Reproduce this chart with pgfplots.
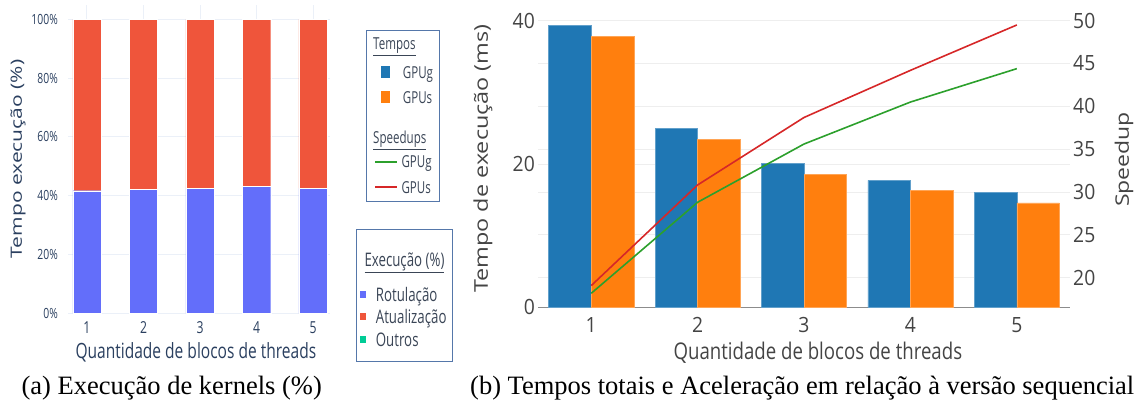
\documentclass[border=0pt]{standalone}
\usepackage{pgfplots}
\pgfplotsset{compat=1.18}
\usepackage{fontspec}
\setmainfont{Liberation Serif}
\newfontfamily\os{Open Sans}
\newfontfamily\osa[FakeStretch=0.74]{Open Sans}
\newfontfamily\osl[FakeStretch=0.70]{Open Sans}
\newfontfamily\osm[FakeStretch=0.71]{Open Sans}
\newfontfamily\osb[FakeStretch=0.81]{Open Sans}
\newfontfamily\osbt[FakeStretch=0.92]{Open Sans}
\definecolor{blueA}{HTML}{636EFA}
\definecolor{redA}{HTML}{EF553B}
\definecolor{greenA}{HTML}{00CC96}
\definecolor{txtA}{HTML}{2A3F5F}
\definecolor{gridA}{HTML}{EBF0F8}
\definecolor{blueB}{HTML}{1F77B4}
\definecolor{orangeB}{HTML}{FF7F0E}
\definecolor{greenB}{HTML}{2CA02C}
\definecolor{redB}{HTML}{D62728}
\definecolor{txtB}{HTML}{444444}
\definecolor{gridB}{HTML}{EEEEEE}
\definecolor{axB}{HTML}{8C8C8C}
\definecolor{legborder}{HTML}{5577AA}
\definecolor{legtxt}{HTML}{3A4556}

\tikzset{
  lgone/.style={anchor=base west, inner sep=0pt, font=\osl\fontsize{16.5}{16.5}\selectfont, text=legtxt},
  lgtwo/.style={anchor=base west, inner sep=0pt, font=\osm\fontsize{18.7}{18.7}\selectfont, text=legtxt},
}

\pgfplotstableread{
x rot atu
1 41.7 58.3
2 42.2 57.8
3 42.5 57.5
4 43.1 56.9
5 42.5 57.5
}\kernels

\pgfplotstableread{
x gpug gpus sg ss
1 39.35 37.77 18.17 19.07
2 24.93 23.40 28.80 30.82
3 20.09 18.60 35.60 38.70
4 17.72 16.28 40.50 44.20
5 16.05 14.56 44.40 49.50
}\tempos

\begin{document}
\begin{tikzpicture}[x=1pt,y=1pt]
\useasboundingbox (0,0) rectangle (1141,403);

% ---------------- legend graphics first
\fill[greenB] (374.7,240.3) rectangle (397,242.3);
\fill[redB] (374.7,214.7) rectangle (397,216.7);
\fill[blueB] (381,324.7) rectangle (390.3,337);
\fill[orangeB] (381,299.5) rectangle (390.3,311.8);
\fill[blueA] (360,104.7) rectangle (366,112);
\fill[redA] (360,83) rectangle (366,90.3);
\fill[greenA] (360,59.7) rectangle (366,67);
\draw[legborder, line width=0.8pt] (366,202) rectangle (439.3,373);
\draw[legborder, line width=0.8pt] (356.7,42) rectangle (452,174);

% ---------------- panel (a)
\begin{axis}[
  at={(68pt,89.7pt)}, anchor=south west, scale only axis,
  width=262pt, height=308.7pt,
  xmin=0.664, xmax=5.30, ymin=0, ymax=105,
  ybar stacked, bar width=0.5,
  /pgf/number format/assume math mode=true,
  axis line style={draw=none},
  major tick length=0pt, tick style={draw=none},
  xtick={1,2,3,4,5},
  ytick={0,20,40,60,80,100},
  yticklabels={0\%,20\%,40\%,60\%,80\%,100\%},
  ymajorgrids, xmajorgrids,
  grid style={color=gridA, line width=1pt},
  yticklabel style={font=\osa\fontsize{14}{14}\selectfont, text=txtA, anchor=east, inner sep=0pt, xshift=-10pt},
  xticklabel style={font=\osa\fontsize{16.5}{16.5}\selectfont, text=txtA, anchor=center, inner sep=0pt, yshift=-14.7pt},
  xlabel={Quantidade de blocos de threads},
  ylabel={\scalebox{1}[0.74]{Tempo execução (\%)}},
  xlabel style={font=\osa\fontsize{21}{21}\selectfont, text=txtA, at={(axis description cs:0.488,-0.1268)}, anchor=center},
  ylabel style={font=\os\fontsize{21}{21}\selectfont, text=txtA, at={(axis description cs:-0.191,0.5)}, anchor=center},
]
\addplot[fill=blueA, draw=white, line width=0.3pt] table[x=x,y=rot]{\kernels};
\addplot[fill=redA, draw=white, line width=0.3pt] table[x=x,y=atu]{\kernels};
\end{axis}

% ---------------- panel (b): right-scale grid, ticks and label
\begin{axis}[
  at={(538pt,95.7pt)}, anchor=south west, scale only axis,
  width=532pt, height=286.6pt,
  xmin=0.5, xmax=5.5, ymin=16.54, ymax=50,
  /pgf/number format/assume math mode=true,
  axis x line=none,
  axis y line*=right,
  y axis line style={draw=none},
  major tick length=0pt, tick style={draw=none},
  ytick={20,25,30,35,40,45,50},
  ymajorgrids, grid style={color=gridB, line width=0.9pt},
  yticklabel style={font=\osbt\fontsize{21}{21}\selectfont, text=txtB, anchor=west, inner sep=0pt, xshift=3pt},
  ylabel={\scalebox{1}[0.81]{Speedup}},
  ylabel style={font=\os\fontsize{23}{23}\selectfont, text=txtB, at={(axis description cs:1.1015,0.516)}, anchor=center},
]
\end{axis}

% ---------------- panel (b): bars, left axis
\begin{axis}[
  at={(538pt,95.7pt)}, anchor=south west, scale only axis,
  width=532pt, height=286.6pt,
  xmin=0.5, xmax=5.5, ymin=0, ymax=40,
  /pgf/number format/assume math mode=true,
  axis x line*=bottom, axis y line*=left,
  x axis line style={color=axB, line width=1.2pt},
  y axis line style={draw=none},
  major tick length=0pt, tick style={draw=none},
  xtick={1,2,3,4,5},
  ytick={0,20,40},
  ymajorgrids, grid style={color=gridB, line width=0.9pt},
  yticklabel style={font=\osbt\fontsize{21}{21}\selectfont, text=txtB, anchor=east, inner sep=0pt, xshift=-3pt},
  xticklabel style={font=\osbt\fontsize{21}{21}\selectfont, text=txtB, anchor=center, inner sep=0pt, yshift=-18pt},
  xlabel={Quantidade de blocos de threads},
  ylabel={\scalebox{1}[0.81]{Tempo de execução (ms)}},
  xlabel style={font=\osb\fontsize{23}{23}\selectfont, text=txtB, at={(axis description cs:0.526,-0.159)}, anchor=center},
  ylabel style={font=\os\fontsize{23.4}{23.4}\selectfont, text=txtB, at={(axis description cs:-0.1034,0.519)}, anchor=center},
]
\addplot[ybar, bar width=0.4, bar shift=-0.2, fill=blueB, draw=blueB!70!white, line width=0.4pt] table[x=x,y=gpug]{\tempos};
\addplot[ybar, bar width=0.4, bar shift=0.2, fill=orangeB, draw=orangeB!70!white, line width=0.4pt] table[x=x,y=gpus]{\tempos};
\end{axis}

% ---------------- panel (b): speedup lines
\begin{axis}[
  at={(538pt,95.7pt)}, anchor=south west, scale only axis,
  width=532pt, height=286.6pt,
  xmin=0.5, xmax=5.5, ymin=16.54, ymax=50,
  hide axis,
]
\addplot[greenB, line width=1.6pt, mark=none] table[x=x,y=sg]{\tempos};
\addplot[redB, line width=1.6pt, mark=none] table[x=x,y=ss]{\tempos};
\end{axis}

% ---------------- legend texts
\node[lgone] at (373,353) {\underline{Tempos}};
\node[lgone] at (402.7,324.7) {GPUg};
\node[lgone] at (402.7,299.7) {GPUs};
\node[lgone] at (373,259) {\underline{Speedups}};
\node[lgone] at (401.3,235) {GPUg};
\node[lgone] at (401.3,209.7) {GPUs};

\node[lgtwo] at (364.3,136.3) {\underline{Execução (\%)}};
\node[lgtwo] at (375.7,101.3) {Rotulação};
\node[lgtwo] at (375.7,79.7) {Atualização};
\node[lgtwo] at (375.7,56.3) {Outros};

% ---------------- captions
\node[anchor=base east, inner sep=0pt, font=\fontsize{26.5}{26.5}\selectfont] at (322,8) {(a) Execução de kernels (\%)};
\node[anchor=base west, inner sep=0pt, font=\fontsize{26.5}{26.5}\selectfont] at (470,8) {(b) Tempos totais e Aceleração em relação à versão sequencial};
\end{tikzpicture}
\end{document}
